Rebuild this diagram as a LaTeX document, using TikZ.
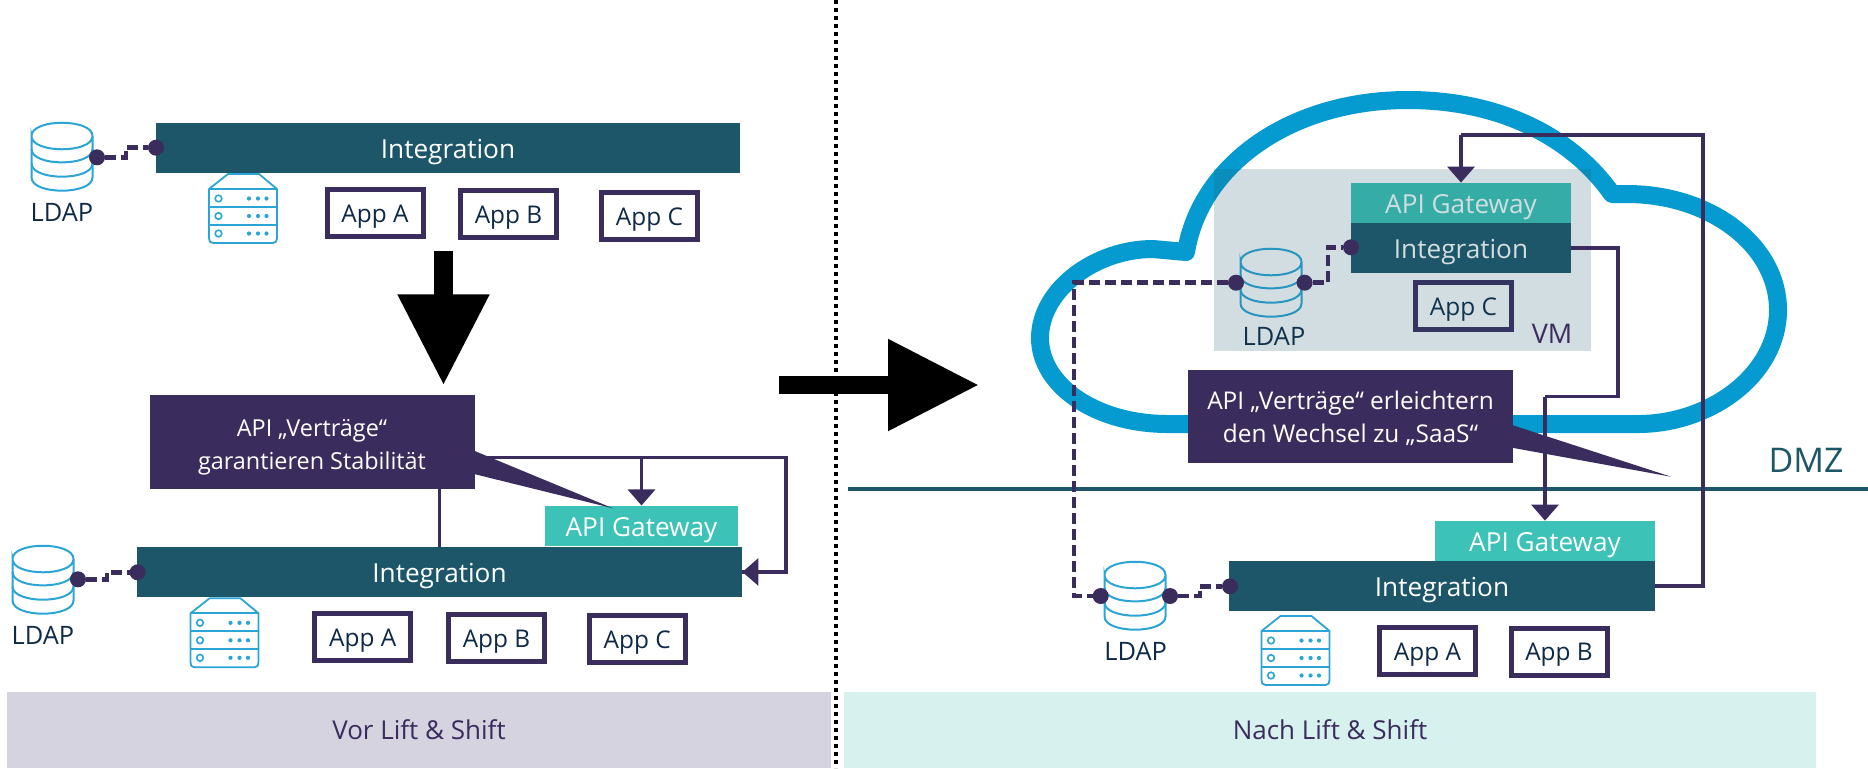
\documentclass[tikz,border=0pt]{standalone}
\usepackage{fontspec}
\setmainfont{Open Sans}
\usetikzlibrary{arrows.meta}
\definecolor{purp}{HTML}{3B2C5E}
\definecolor{tealbar}{HTML}{1D5669}
\definecolor{gw}{HTML}{3CC2B6}
\definecolor{cloudc}{HTML}{059BD0}
\definecolor{iconc}{HTML}{2AA5D5}
\definecolor{navy}{HTML}{0F2A47}
\definecolor{bandl}{HTML}{D5D3DF}
\definecolor{bandr}{HTML}{D7F1EE}
\tikzset{
  x=0.5pt,y=-0.5pt,
  txt/.style={font=\fontsize{11.5}{15.5}\selectfont,inner sep=0pt,align=center},
  bar/.style={txt,font=\fontsize{13.1}{15.5}\selectfont,fill=tealbar,text=white,inner sep=0pt,minimum height=25pt,text height=13.8pt,text depth=3pt},
  gate/.style={txt,font=\fontsize{13.1}{15.5}\selectfont,fill=gw,text=white,minimum height=20pt,text height=13.8pt,text depth=3pt},
  appbox/.style={txt,font=\fontsize{12.2}{15}\selectfont,draw=purp,line width=2.5pt,text=navy,minimum width=48pt,minimum height=23.5pt,outer sep=0pt,text height=11.5pt,text depth=2.1pt},
  callout/.style={txt,fill=purp,text=white,minimum width=162.5pt,minimum height=46.8pt},
  tail/.style={fill=purp},
  band/.style={txt,font=\fontsize{13}{15}\selectfont,minimum height=38pt,text=purp},
  ldaplabel/.style={txt,font=\fontsize{12.7}{15}\selectfont,text=navy},
  conn/.style={draw=purp,line width=1.7pt,line join=miter},
  arr/.style={conn,-{Triangle[length=8pt,width=13.5pt]}},
  dashline/.style={draw=purp,line width=2.3pt,dash pattern=on 5.5pt off 2.5pt},
  dot/.style={circle,fill=purp,minimum size=8pt,inner sep=0pt,outer sep=0pt},
  bigarrow/.style={draw=black,line width=9.2pt,-{Triangle[length=45.5pt,width=43.5pt]}},
  pics/cyl/.style={code={
    \draw[draw=#1,line width=1pt,fill=none]
      (-30.5,13.3) .. controls (-30.5,-4.4) and (30.5,-4.4) .. (30.5,13.3)
      .. controls (30.5,31) and (-30.5,31) .. (-30.5,13.3)
      -- (-30.5,54.7) .. controls (-30.5,72.4) and (30.5,72.4) .. (30.5,54.7) -- (30.5,13.3);
    \draw[draw=#1,line width=1pt]
      (-30.5,26.4) .. controls (-30.5,44.1) and (30.5,44.1) .. (30.5,26.4);
    \draw[draw=#1,line width=1pt]
      (-30.5,40.7) .. controls (-30.5,58.4) and (30.5,58.4) .. (30.5,40.7);
  }},
  pics/srv/.style={code={
    \draw[draw=iconc,line width=.9pt,line join=round]
      (-15,0) -- (16,0) -- (34,15) -- (34,64) .. controls (34,67) and (33,69) .. (30,69)
      -- (-30,69) .. controls (-33,69) and (-34,67) .. (-34,64) -- (-34,15) -- cycle;
    \draw[draw=iconc,line width=.9pt] (-34,15) -- (34,15) (-34,33) -- (34,33) (-34,51) -- (34,51);
    \foreach \yy in {24.5,42,59.5}{
      \draw[draw=iconc,line width=.8pt] (-24.5,\yy) circle[radius=3.3];
      \foreach \xx in {6,15,23.5}{\fill[iconc] (\xx,\yy) circle[radius=2.1];}
    }
  }}
}
\begin{document}
\begin{tikzpicture}
\useasboundingbox (0,0) rectangle (1868,768);
\fill[white] (0,0) rectangle (1868,768);

% bands and divider
\node[band,fill=bandl,minimum width=412pt] (bandL) at (419,730) {Vor Lift \& Shift};
\node[band,fill=bandr,minimum width=486pt] (bandR) at (1330,730) {Nach Lift \& Shift};
\coordinate (divT) at (835.5,0);
\coordinate (divB) at (835.5,768);
\draw[black,line width=2pt,dash pattern=on 2pt off 2pt] (divT) -- (divB);

% LEFT TOP
\node[bar,minimum width=292pt] (bar1) at (448,147.85) {Integration};
\pic at (62,122.7) {cyl=iconc};
\node[ldaplabel] (ldap1) at (62,212.7) {LDAP};
\node[dot] (d1a) at (97,157.3) {};
\node[dot] (d1b) at (156,147.7) {};
\coordinate (m1) at (126,152.5);
\draw[dashline] (d1a) -| (m1) |- (d1b);
\pic at (243,174) {srv};
\node[appbox] (a1) at (375,213.3) {App A};
\node[appbox] (b1) at (508.5,214.3) {App B};
\node[appbox] (c1) at (649.5,215.8) {App C};
\coordinate (ar1a) at (443.5,250.7);
\coordinate (ar1b) at (443.5,385.3);
\draw[bigarrow] (ar1a) -- (ar1b);

% LEFT BOTTOM
\node[bar,minimum width=302.5pt] (bar2) at (439.5,572) {Integration};
\node[gate,minimum width=96.5pt] (gw2) at (641.5,525.85) {API Gateway};
\coordinate (r1) at (439.5,457.7);
\coordinate (r2) at (786,457.7);
\coordinate (r3) at (641.5,457.7);
\draw[conn] (bar2.north) -- (r1) -- (r2) |- (bar2.east);
\draw[arr] (786,571.9) -- (bar2.east);
\draw[arr] (r3) -- (gw2.north);
\node[callout,font=\fontsize{11.7}{16.5}\selectfont] (call1) at (312,442.15) {\rule{0pt}{13.5pt}API „Verträge“\\garantieren Stabilität};
\fill[tail] (474,450.7) -- (613,508.3) -- (474,474) -- cycle;
\pic at (43,545.7) {cyl=iconc};
\node[ldaplabel] (ldap2) at (43,635) {LDAP};
\node[dot] (d2a) at (78,579.3) {};
\node[dot] (d2b) at (137.6,572.3) {};
\coordinate (m2) at (107,575.8);
\draw[dashline] (d2a) -| (m2) |- (d2b);
\pic at (224.5,598.3) {srv};
\node[appbox] (a2) at (362.7,637.2) {App A};
\node[appbox] (b2) at (496.5,638.2) {App B};
\node[appbox] (c2) at (637.2,639.4) {App C};

% central arrow
\coordinate (ar2a) at (779,385);
\coordinate (ar2b) at (979,385);
\draw[bigarrow] (ar2a) -- (ar2b);

% RIGHT: cloud
\draw[draw=cloudc,line width=9pt,line join=round,line cap=round]
  (1638,424) -- (1168,424)
  .. controls (1095,424) and (1040,385) .. (1040,338)
  .. controls (1040,290) and (1095,249) .. (1153,249) -- (1186,252)
  .. controls (1200,165) and (1290,100) .. (1408,100)
  .. controls (1500,100) and (1572,137) .. (1612,194)
  -- (1627,194)
  .. controls (1710,194) and (1778,245) .. (1778,310)
  .. controls (1778,375) and (1710,424) .. (1638,424) -- cycle;
\node[gate,fill=gw,text=white,minimum width=110pt] (gw3) at (1461,203) {API Gateway};
\node[bar,minimum width=110pt] (bar3) at (1461,247.85) {Integration};
\pic at (1271,248.7) {cyl=iconc};
\node[ldaplabel] (ldap3) at (1274,336) {LDAP};
\node[appbox] (c3) at (1463.5,306.3) {App C};
\node[txt,fill=tealbar,fill opacity=.2,minimum width=188.5pt,minimum height=90.85pt] (vm) at (1402.5,259.85) {};
\node[txt,font=\fontsize{13.5}{15}\selectfont,text=purp] (vmt) at (1552,334) {VM};
\node[dot] (d3a) at (1236,282.7) {};
\node[dot] (d3b) at (1304.6,282.7) {};
\node[dot] (d3c) at (1351,247.3) {};
\coordinate (m3) at (1328,265);
\draw[dashline] (d3b) -| (m3) |- (d3c);

% DMZ
\coordinate (dmzL) at (848,489);
\coordinate (dmzR) at (1868,489);
\draw[draw=tealbar,line width=2pt] (dmzL) -- (dmzR);
\node[txt,text=tealbar,font=\fontsize{17}{19}\selectfont] (dmz) at (1806,460) {DMZ};

% RIGHT bottom
\node[gate,minimum width=110pt] (gw4) at (1545,541) {API Gateway};
\node[bar,minimum width=213pt] (bar4) at (1442,586) {Integration};
\pic at (1135,561.7) {cyl=iconc};
\node[ldaplabel] (ldap4) at (1135.6,651.7) {LDAP};
\node[dot] (d4a) at (1100.7,596) {};
\node[dot] (d4b) at (1170,596) {};
\node[dot] (d4c) at (1230,586.3) {};
\coordinate (m4) at (1200,591);
\draw[dashline] (d4b) -| (m4) |- (d4c);
\pic at (1295.5,616) {srv};
\node[appbox] (a4) at (1427.5,650.6) {App A};
\node[appbox] (b4) at (1559,651.5) {App B};

% routes
\coordinate (t1) at (1703,135);
\coordinate (t2) at (1461,135);
\draw[conn] (bar4.east) -| (t1) -- (t2);
\draw[arr] (t2) -- (gw3.north);
\coordinate (s1) at (1618,247.85);
\coordinate (s2) at (1618,396.7);
\coordinate (s3) at (1545,396.7);
\draw[conn] (bar3.east) -- (s1) -- (s2) -- (s3);
\draw[arr] (s3) -- (gw4.north);
\coordinate (q1) at (1074,282.7);
\coordinate (q2) at (1074,596);
\draw[dashline] (d3a) -- (q1) -- (q2) -- (d4a);

% callout right
\node[callout,font=\fontsize{12.2}{16.5}\selectfont] (call2) at (1350.5,416.5) {\rule{0pt}{11pt}API „Verträge“ erleichtern\\den Wechsel zu „SaaS“};
\fill[tail] (1512,425) -- (1671,476.7) -- (1512,447.7) -- cycle;
\end{tikzpicture}
\end{document}
